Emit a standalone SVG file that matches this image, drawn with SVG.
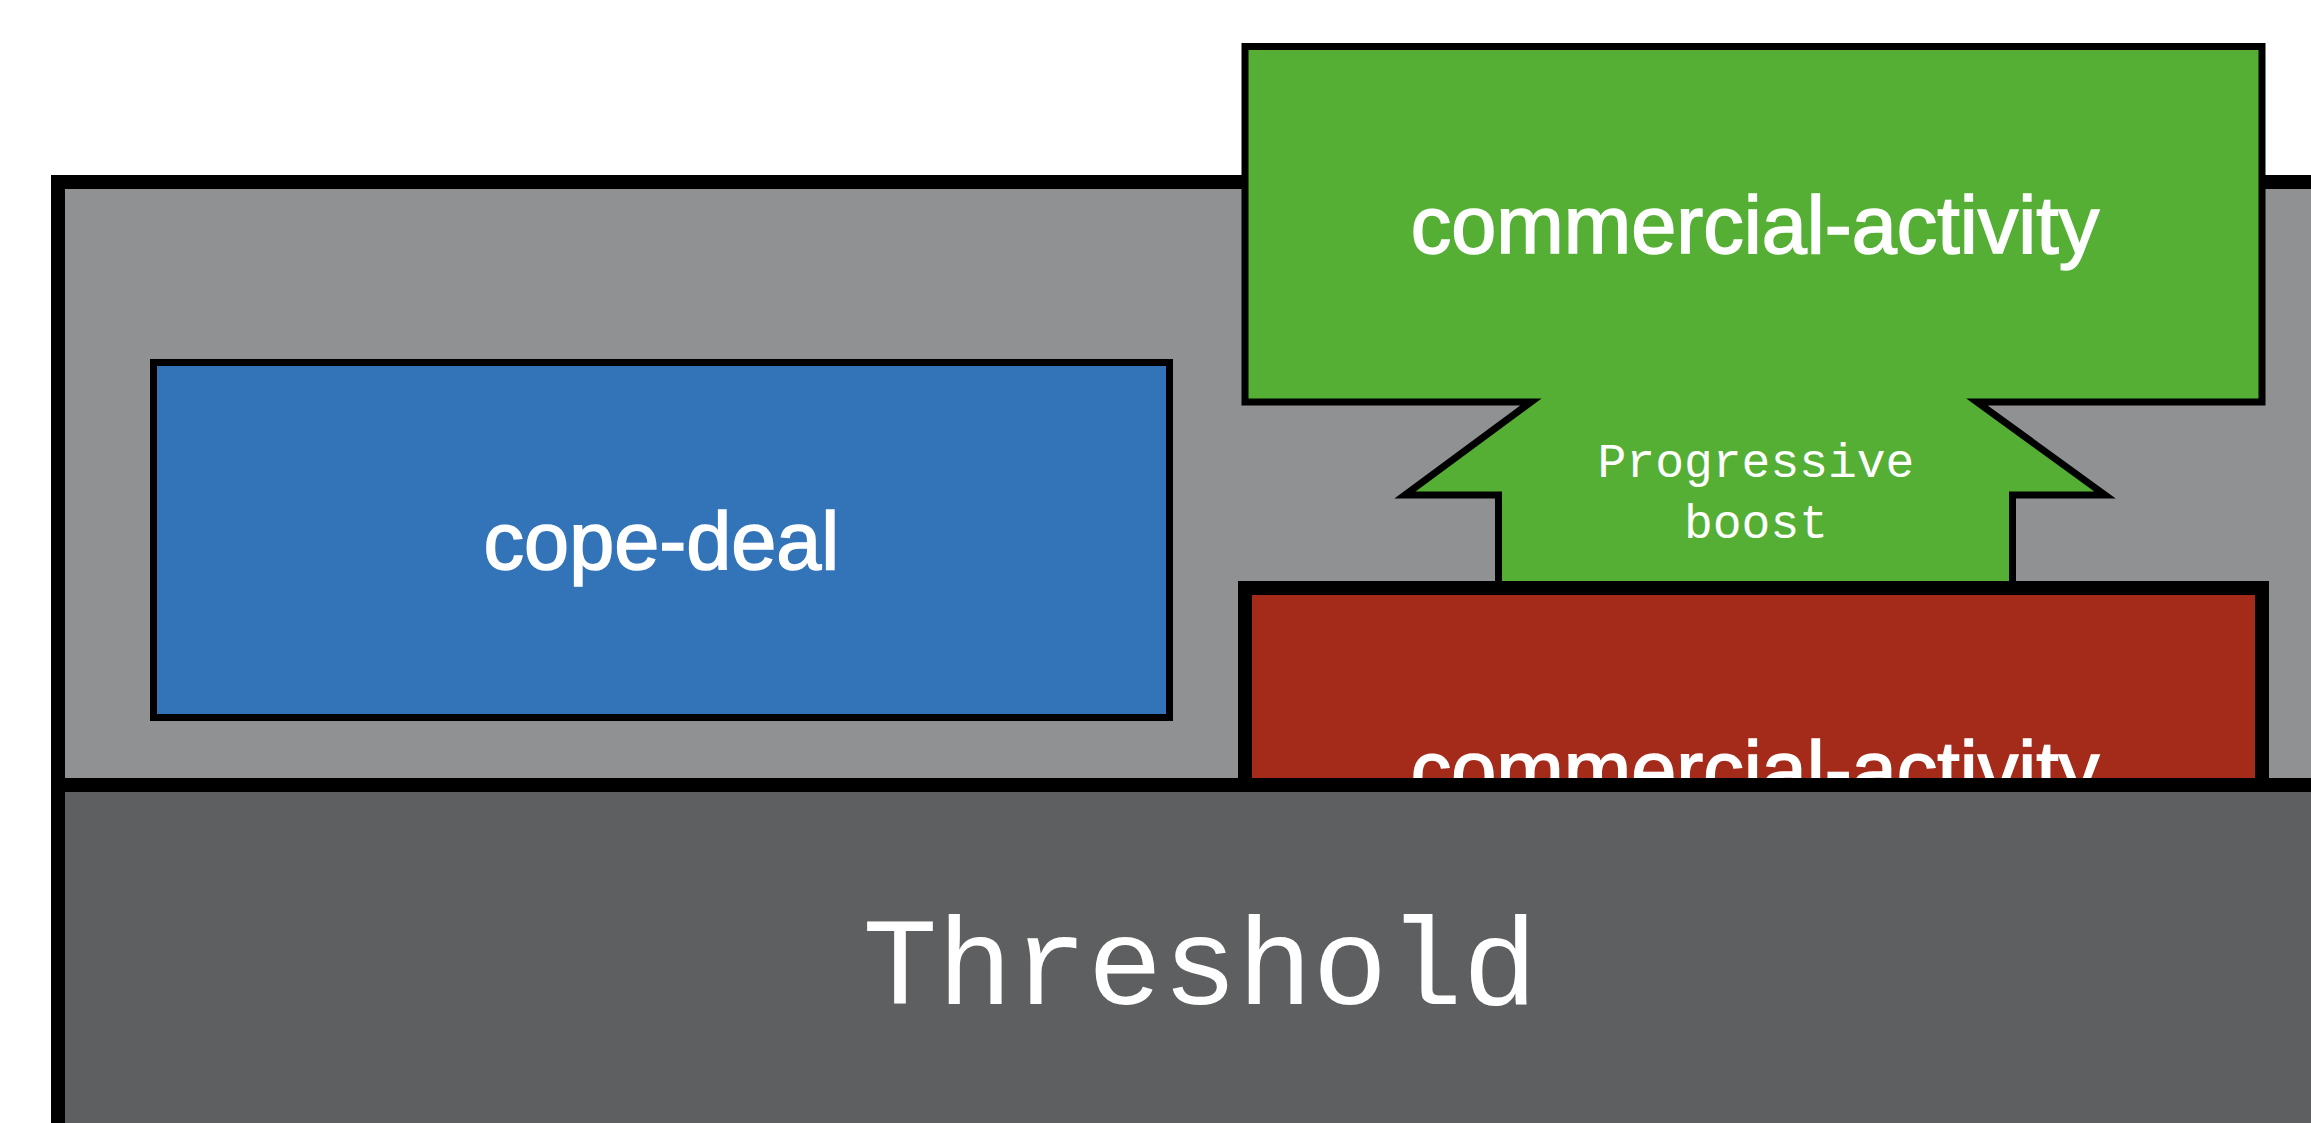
<svg xmlns="http://www.w3.org/2000/svg" width="2311" height="1123" viewBox="0 0 2311 1123">
  <style>
    .panel { stroke: #000; stroke-width: 14; stroke-linejoin: miter; }
    .box { stroke: #000; stroke-width: 7; stroke-linejoin: miter; stroke-miterlimit: 10; }
    .label { font-family: "Liberation Sans", Arial, Helvetica, sans-serif; font-size: 81px; fill: #fff; stroke: #fff; stroke-width: 1.6; text-anchor: middle; }
    .mono { font-family: "Liberation Mono", "DejaVu Sans Mono", monospace; fill: #fff; text-anchor: middle; }
  </style>

  <rect width="2311" height="1123" fill="#fff"/>

  <!-- upper layer panel -->
  <g id="layer-panel">
    <rect class="panel" x="58" y="182" width="2400" height="603" fill="#909193"/>
  </g>

  <!-- cope-deal block -->
  <g id="cope-deal">
    <rect class="box" x="153.5" y="362.5" width="1016" height="355" fill="#3274b7"/>
    <text class="label" x="661.5" y="569">cope-deal</text>
  </g>

  <!-- boosting block with upward arrow shape -->
  <g id="commercial-activity-boost">
    <path class="box" fill="#54af34"
          d="M1245,46.5 H2262 V402 H1977 L2105,495 H2012.5 V600 H1498.5 V495 H1405 L1531,402 H1245 Z"/>
    <text class="label" x="1755" y="253">commercial-activity</text>
    <text class="mono" x="1756" y="477" font-size="48">Progressive</text>
    <text class="mono" x="1756" y="538" font-size="48">boost</text>
  </g>

  <!-- base block -->
  <g id="commercial-activity-base">
    <rect class="panel" x="1245" y="588" width="1017" height="400" fill="#a42b1a"/>
    <text class="label" x="1755" y="798">commercial-activity</text>
  </g>

  <!-- threshold panel -->
  <g id="threshold">
    <rect class="panel" x="58" y="785" width="2400" height="500" fill="#5e5f61"/>
    <text class="mono" x="1200" y="1004" font-size="125">Threshold</text>
  </g>

  <g id="connectors"/>
</svg>
